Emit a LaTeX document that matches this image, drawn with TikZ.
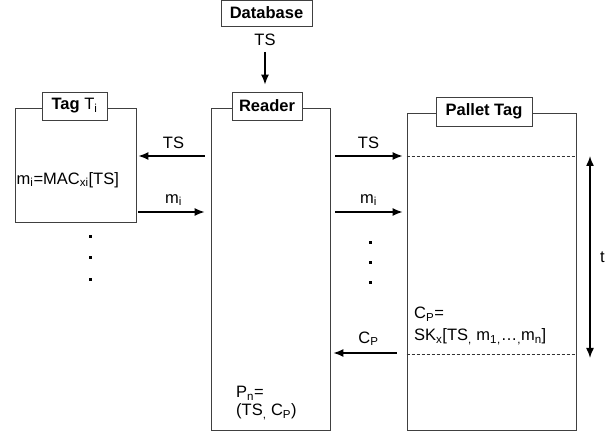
\documentclass[tikz,border=0pt]{standalone}
\usepackage{fontspec}
\setmainfont{Liberation Sans}
\usetikzlibrary{arrows.meta}

\newcommand{\diagfont}{\fontsize{16.5}{19}\selectfont}

\tikzset{
  frame/.style={draw=black!75, line width=0.8pt, inner sep=0pt},
  title/.style={draw=black!75, line width=0.8pt, fill=white, inner sep=0pt,
    font=\diagfont\bfseries},
  msg/.style={line width=1.5pt, -{Latex[length=10pt,width=8pt]}},
  span/.style={line width=1.5pt,
    {Latex[length=10pt,width=8pt]}-{Latex[length=10pt,width=8pt]}},
  slot/.style={draw=black!80, line width=0.8pt, dash pattern=on 3pt off 2pt},
}

\begin{document}
\begin{tikzpicture}[x=1pt, y=-1pt, every node/.style={font=\diagfont}]
\useasboundingbox (0,0) rectangle (613,435);

\draw (75.5,165) node[frame, minimum width=121pt, minimum height=114pt] (tag) {} ;
\draw (74.5,106) node[title, minimum width=65pt, minimum height=28pt] (tagtitle) {Tag \textmd{T\textsubscript{i}}} ;

\draw (270.5,269) node[frame, minimum width=119pt, minimum height=322pt] (reader) {} ;
\draw (267,106) node[title, minimum width=70pt, minimum height=28pt] (readertitle) {Reader} ;

\draw (491.5,271.5) node[frame, minimum width=169pt, minimum height=317pt] (pallet) {} ;
\draw (484,111.5) node[title, minimum width=96pt, minimum height=29pt] (pallettitle) {Pallet Tag} ;

\draw (266.5,13) node[title, minimum width=91pt, minimum height=26pt] (db) {Database} ;
\draw (265,40) node (dbts) {TS} ;

\coordinate (tsrow) at (0,156) ;
\coordinate (mrow) at (0,212) ;
\coordinate (cprow) at (0,353) ;
\coordinate (endrow) at (0,354) ;
\coordinate (ttop) at (590,156) ;
\coordinate (tbot) at (590,358) ;

% texts inside the boxes
\draw (16.5,180) node[anchor=west, inner sep=0pt] (mac) {m\textsubscript{i}=MAC\textsubscript{xi}[TS]} ;
\draw (414,307) node[anchor=north west, inner sep=0pt, align=left] (cp)
  {C\textsubscript{P}=\\[3pt]SK\textsubscript{x}[TS\textsubscript{,} m\textsubscript{1}\textsubscript{,}\ldots\textsubscript{,}m\textsubscript{n}]} ;
\draw (236,386) node[anchor=north west, inner sep=0pt, align=left] (pn)
  {P\textsubscript{n}=\\[-1pt](TS\textsubscript{,} C\textsubscript{P})} ;

% messages
\draw[msg, shorten <=2.5pt, shorten >=7pt] (dbts) -- (dbts |- readertitle.north) ;

\draw[msg, shorten <=6pt, shorten >=2pt] (reader.west |- tsrow) -- (tag.east |- tsrow)
  node[midway, above=3pt] {TS} ;
\draw[msg, shorten <=2pt, shorten >=6pt] (tag.east |- mrow) -- (reader.west |- mrow)
  node[midway, above=2pt] {m\textsubscript{i}} ;

\draw[msg, shorten <=5pt, shorten >=4pt] (reader.east |- tsrow) -- (pallet.west |- tsrow)
  node[midway, above=3pt] {TS} ;
\draw[msg, shorten <=5pt, shorten >=4pt] (reader.east |- mrow) -- (pallet.west |- mrow)
  node[midway, above=2pt] {m\textsubscript{i}} ;
\draw[msg, shorten <=10pt, shorten >=3pt] (pallet.west |- cprow) -- (reader.east |- cprow)
  node[midway, above=3pt] {C\textsubscript{P}} ;

% time window
\draw[slot] (pallet.west |- tsrow) -- (pallet.east |- tsrow) ;
\draw[slot] (pallet.west |- endrow) -- (pallet.east |- endrow) ;
\draw[span] (ttop) -- (tbot) node[midway, right=6pt] {t} ;

% dots
\fill (88.5,235.5) rectangle ++(3,3) ;
\fill (88.5,256.5) rectangle ++(3,3) ;
\fill (88.5,278.5) rectangle ++(3,3) ;
\fill (368.5,241.5) rectangle ++(3,3) ;
\fill (368.5,261.5) rectangle ++(3,3) ;
\fill (368.5,281.5) rectangle ++(3,3) ;
\end{tikzpicture}
\end{document}
